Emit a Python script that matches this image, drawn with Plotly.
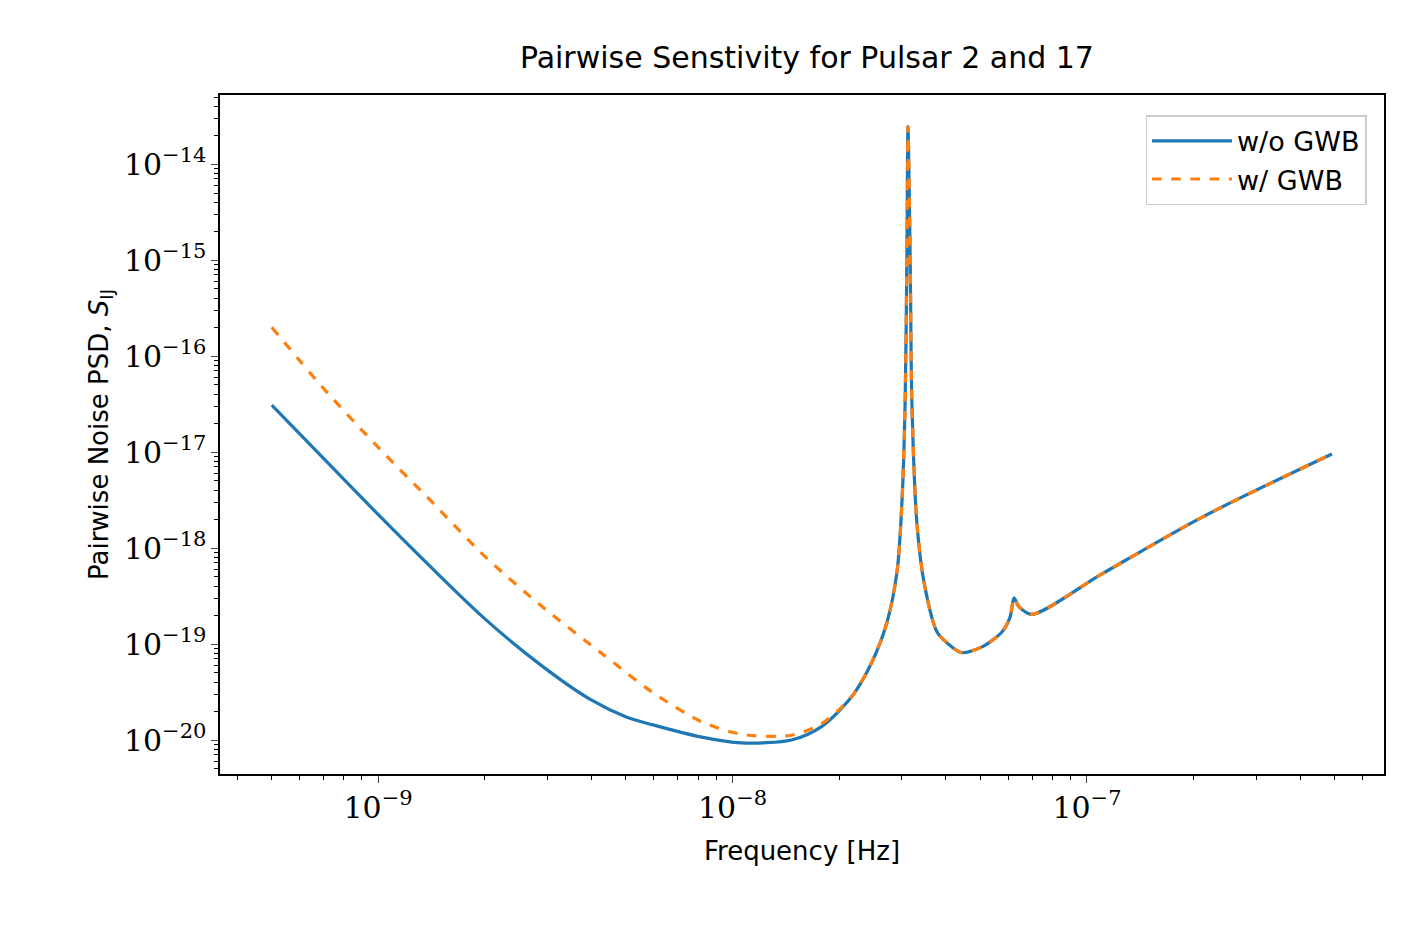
import plotly.graph_objects as go

# values, stored as log10 exponents
log_f_blue = [-9.30, -9.158, -9.0, -8.848, -8.698, -8.537, -8.40, -8.30, -8.227, -8.087, -7.975,
              -7.834, -7.749, -7.664, -7.607, -7.564, -7.536, -7.522, -7.513, -7.508, -7.505,
              -7.499, -7.494, -7.48, -7.46, -7.423, -7.381, -7.353, -7.296, -7.24, -7.217,
              -7.206, -7.192, -7.155, -6.958, -6.676, -6.309]
log_s_blue = [-16.51, -17.05, -17.65, -18.21, -18.74, -19.23, -19.58, -19.76, -19.84, -19.97, -20.03,
              -20.0, -19.86, -19.55, -19.19, -18.77, -18.25, -17.52, -16.48, -14.92, -13.61,
              -14.92, -16.48, -17.73, -18.35, -18.875, -19.03, -19.09, -19.03, -18.875, -18.72,
              -18.52, -18.61, -18.69, -18.27, -17.68, -17.02]

log_f_orange = [-9.30, -9.158, -9.0, -8.848, -8.698, -8.537, -8.368, -8.227, -8.087, -7.975,
                 -7.834, -7.749] + log_f_blue[13:]
log_s_orange = [-15.70, -16.32, -16.95, -17.52, -18.09, -18.61, -19.10, -19.50, -19.81, -19.94,
                -19.95, -19.83] + log_s_blue[13:]

fb = [10 ** v for v in log_f_blue]
sb = [10 ** v for v in log_s_blue]
fo = [10 ** v for v in log_f_orange]
so = [10 ** v for v in log_s_orange]

fig = go.Figure()
fig.add_trace(go.Scatter(x=fb, y=sb, mode="lines", name="w/o GWB",
                         line=dict(color="#1f77b4", width=3.2, shape="spline", smoothing=0.8)))
fig.add_trace(go.Scatter(x=fo, y=so, mode="lines", name="w/ GWB",
                         line=dict(color="#ff7f0e", width=3.2, dash="dash", shape="spline", smoothing=0.8)))

axis = dict(type="log", showgrid=False, zeroline=False, mirror=True, showline=True,
            linecolor="black", linewidth=1.5, ticks="outside", ticklen=7, tickwidth=1.2,
            exponentformat="power", dtick=1,
            tickfont=dict(family="DejaVu Serif", size=24, color="black"),
            minor=dict(ticks="outside", ticklen=4, tickcolor="black", dtick="D1", showgrid=False))

fig.update_layout(
    width=1414, height=932,
    plot_bgcolor="white", paper_bgcolor="white",
    margin=dict(l=212, r=38, t=87, b=166),
    title=dict(text="Pairwise Senstivity for Pulsar 2 and 17", x=0.565, y=0.947,
               xanchor="center", yanchor="middle",
               font=dict(family="DejaVu Sans", size=30, color="black")),
    font=dict(family="DejaVu Sans", color="black"),
    xaxis=dict(axis, range=[-9.446, -6.162],
               title=dict(text="Frequency [Hz]", font=dict(size=26), standoff=18)),
    yaxis=dict(axis, range=[-20.354, -13.28],
               title=dict(text="Pairwise Noise PSD, <i>S</i><sub>IJ</sub>", font=dict(size=26), standoff=8)),
    legend=dict(x=0.985, y=0.97, xanchor="right", yanchor="top", bgcolor="white",
                bordercolor="#cccccc", borderwidth=1.5, font=dict(size=27),
                itemwidth=80, tracegroupgap=14),
)

fig.write_html("out.html")
